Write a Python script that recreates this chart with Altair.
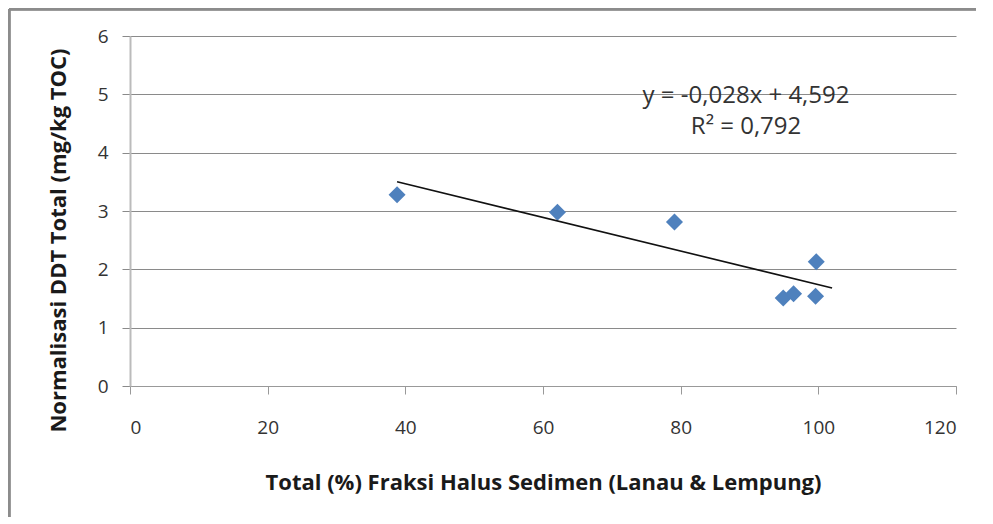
import altair as alt
import pandas as pd

fraksi = [38.8, 62.1, 79.1, 94.9, 96.4, 99.6, 99.7]
ddt = [3.28, 2.98, 2.81, 1.51, 1.58, 1.54, 2.13]
trend_x = [38.8, 102.0]
trend_y = [3.50, 1.68]
eq_lines = ["y = -0,028x + 4,592", "R² = 0,792"]
eq_x = [89.5, 89.5]
eq_y = [4.97, 4.44]

df = pd.DataFrame({"x": fraksi, "y": ddt})
tdf = pd.DataFrame({"x": trend_x, "y": trend_y})
edf = pd.DataFrame({"t": eq_lines, "x": eq_x, "y": eq_y})

font = "Open Sans"

xscale = alt.Scale(domain=[0, 120], nice=False, zero=True)
yscale = alt.Scale(domain=[0, 6], nice=False)

xaxis = alt.Axis(values=[0, 20, 40, 60, 80, 100, 120], grid=False, format="d",
                 title="Total (%) Fraksi Halus Sedimen (Lanau & Lempung)",
                 titleFont=font, titleFontSize=22, titleFontWeight="bold",
                 titleColor="#1a1a1a", titleBaseline="alphabetic", titleY=103,
                 labelFont=font, labelFontSize=19, labelColor="#333",
                 labelPadding=24, domainColor="#999", tickColor="#999", tickSize=8)
yaxis = alt.Axis(values=[0, 1, 2, 3, 4, 5, 6], grid=True, gridColor="#8a8a8a", format="d",
                 title="Normalisasi DDT Total (mg/kg TOC)",
                 titleFont=font, titleFontSize=22, titleFontWeight="bold",
                 titleColor="#1a1a1a", titleX=-72, titleY=204, titleAngle=270,
                 titleAlign="center", titleBaseline="middle",
                 labelFont=font, labelFontSize=19, labelColor="#333",
                 labelPadding=14, domainColor="#bbbbbb", domainWidth=2,
                 tickColor="#8a8a8a", tickSize=8)

points = alt.Chart(df).mark_point(shape="diamond", filled=True, size=290,
                                  color="#4F81BD", opacity=1).encode(
    x=alt.X("x:Q", scale=xscale, axis=xaxis),
    y=alt.Y("y:Q", scale=yscale, axis=yaxis),
)

trend = alt.Chart(tdf).mark_line(color="#111", strokeWidth=1.6).encode(
    x=alt.X("x:Q", scale=xscale), y=alt.Y("y:Q", scale=yscale))

eq = alt.Chart(edf).mark_text(font=font, fontSize=24, color="#333",
                              align="center", baseline="middle").encode(
    x=alt.X("x:Q", scale=xscale), y=alt.Y("y:Q", scale=yscale), text="t:N")

frame_top = alt.Chart(df).mark_rule(color="#8c8c8c", strokeWidth=2.5).encode(
    x=alt.value(-121), x2=alt.value(870), y=alt.value(-27))
frame_left = alt.Chart(df).mark_rule(color="#8c8c8c", strokeWidth=2.5).encode(
    x=alt.value(-121), y=alt.value(-27), y2=alt.value(481))

chart = alt.layer(frame_top, frame_left, points, trend, eq).properties(
    width=826, height=350,
    autosize=alt.AutoSizeParams(type="none"),
    padding={"left": 122, "top": 28, "right": 20, "bottom": 140},
    background="white",
).configure_view(stroke=None)

chart.save("out.html", embed_options={"renderer": "svg", "actions": False})
